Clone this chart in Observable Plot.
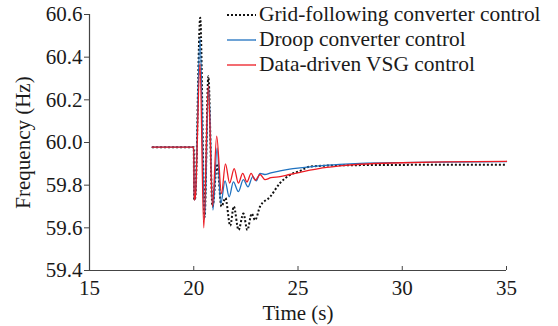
<!DOCTYPE html>
<html>
<head>
<meta charset="utf-8">
<script src="https://cdn.jsdelivr.net/npm/d3@7"></script>
<script src="https://cdn.jsdelivr.net/npm/@observablehq/plot@0.6"></script>
<style>
  html, body { margin: 0; padding: 0; background: #fff; }
  #wrap { position: relative; width: 558px; height: 326px; font-family: "Liberation Serif", "Times New Roman", serif; }
  #wrap svg text { font-family: "Liberation Serif", "Times New Roman", serif; }
  #legend { position: absolute; left: 226px; top: 2px; font-size: 21.4px; color: #1a1a1a; }
  #legend .row { height: 25px; line-height: 25px; display: flex; align-items: center; white-space: nowrap; }
  #legend svg { margin-right: 2px; }
</style>
</head>
<body>
<div id="wrap"><div id="legend"></div></div>
<script>
const xTicks = [15, 20, 25, 30, 35];
const yTicks = [59.4, 59.6, 59.8, 60.0, 60.2, 60.4, 60.6];
const seriesNames = ["Grid-following converter control", "Droop converter control", "Data-driven VSG control"];
const seriesColors = ["#111111", "#1f72c0", "#ec1c24"];

// Grid-following converter control
const tGF = [18, 20.0, 20.02, 20.07, 20.31, 20.52, 20.7, 20.9, 21.12, 21.33, 21.52, 21.75, 21.92, 22.15, 22.38, 22.57, 22.78, 22.94, 23.18, 23.66, 24.14, 24.6, 25.1, 25.57, 26, 27, 28, 30, 35];
const fGF = [59.978, 59.978, 59.73, 59.74, 60.585, 59.65, 60.31, 59.70, 59.90, 59.70, 59.74, 59.61, 59.70, 59.59, 59.667, 59.59, 59.667, 59.636, 59.70, 59.745, 59.81, 59.847, 59.867, 59.887, 59.89, 59.893, 59.894, 59.895, 59.896];

// Droop converter control
const tDR = [18, 20.0, 20.02, 20.07, 20.3, 20.52, 20.71, 20.92, 21.12, 21.3, 21.5, 21.7, 21.9, 22.14, 22.38, 22.6, 22.83, 23.0, 23.18, 23.4, 23.7, 24.14, 24.6, 25.1, 25.57, 26, 27, 28, 30, 32, 35];
const fDR = [59.978, 59.978, 59.73, 59.74, 60.49, 59.64, 60.27, 59.683, 59.975, 59.714, 59.82, 59.745, 59.815, 59.77, 59.826, 59.792, 59.84, 59.82, 59.855, 59.85, 59.858, 59.867, 59.875, 59.881, 59.886, 59.89, 59.897, 59.902, 59.906, 59.908, 59.91];

// Data-driven VSG control
const tVSG = [18, 20.0, 20.02, 20.07, 20.3, 20.48, 20.7, 20.9, 21.1, 21.33, 21.52, 21.72, 21.94, 22.14, 22.35, 22.55, 22.75, 22.95, 23.18, 23.42, 23.7, 24.14, 24.6, 25.1, 25.57, 26, 27, 28, 30, 32, 35];
const fVSG = [59.978, 59.978, 59.73, 59.74, 60.37, 59.60, 60.27, 59.70, 60.03, 59.76, 59.90, 59.81, 59.878, 59.81, 59.855, 59.815, 59.855, 59.823, 59.85, 59.826, 59.835, 59.84, 59.85, 59.86, 59.87, 59.878, 59.89, 59.898, 59.905, 59.909, 59.912];

const rows = (ts, fs) => ts.map((t, i) => ({t, f: fs[i]}));
const gf = rows(tGF, fGF), dr = rows(tDR, fDR), vsg = rows(tVSG, fVSG);

const font = "'Liberation Serif', 'Times New Roman', serif";
const chart = Plot.plot({
  width: 558,
  height: 326,
  marginTop: 14,
  marginLeft: 89,
  marginRight: 52,
  marginBottom: 56,
  style: {fontFamily: font, fontSize: "21px", color: "#1a1a1a", background: "#fff", overflow: "visible"},
  x: {domain: [xTicks[0], xTicks[xTicks.length - 1]]},
  y: {domain: [yTicks[0], yTicks[yTicks.length - 1]]},
  marks: [
    Plot.axisX({ticks: xTicks, tickSize: 0, tickPadding: 10, tickFormat: d => String(d), label: "Time (s)", labelAnchor: "center", labelOffset: 49.5, labelArrow: false, fontFamily: font, fontSize: 21}),
    Plot.axisY({ticks: yTicks, tickSize: 5, tickPadding: 2, tickFormat: d => d.toFixed(1), label: "Frequency (Hz)", labelAnchor: "center", labelOffset: 74, labelArrow: false, stroke: "#444", fontFamily: font, fontSize: 21}),
    Plot.ruleX(xTicks, {x: d => d, y1: yTicks[0], y2: yTicks[0], insetTop: -4, stroke: "#444"}),
    Plot.ruleY([yTicks[0]], {stroke: "#444", strokeWidth: 1.2}),
    Plot.ruleX([xTicks[0]], {stroke: "#444", strokeWidth: 1.2}),
    Plot.line(gf, {x: "t", y: "f", stroke: seriesColors[0], strokeWidth: 2, strokeDasharray: "2,2", strokeLinecap: "butt", curve: "monotone-x"}),
    Plot.line(dr, {x: "t", y: "f", stroke: seriesColors[1], strokeWidth: 1.3, curve: "monotone-x"}),
    Plot.line(vsg, {x: "t", y: "f", stroke: seriesColors[2], strokeWidth: 1.3, curve: "monotone-x"})
  ]
});
document.getElementById("wrap").prepend(chart);

const legend = document.getElementById("legend");
seriesNames.forEach((name, i) => {
  const row = document.createElement("div");
  row.className = "row";
  const dash = i === 0 ? ' stroke-dasharray="2,2"' : '';
  const sw = i === 0 ? 2 : 1.3;
  row.innerHTML = `<svg width="31" height="10"><line x1="1" y1="5" x2="30" y2="5" stroke="${seriesColors[i]}" stroke-width="${sw}"${dash}/></svg><span>${name}</span>`;
  legend.appendChild(row);
});
</script>
</body>
</html>
